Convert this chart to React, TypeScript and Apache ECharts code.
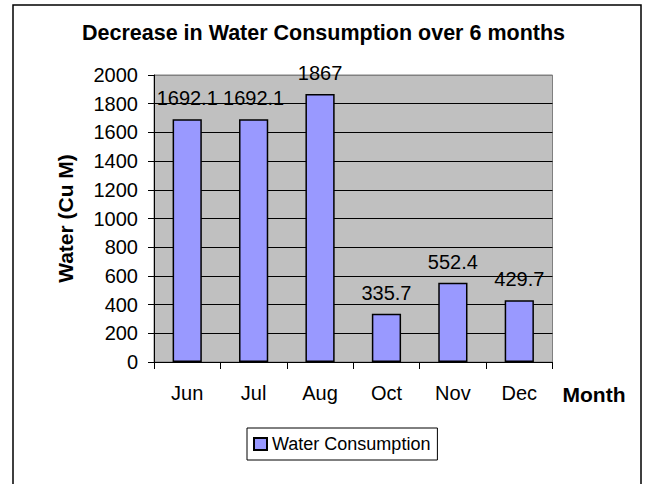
import React, { useEffect, useRef } from "react";
import * as echarts from "echarts";

const months = ["Jun", "Jul", "Aug", "Oct", "Nov", "Dec"];
const waterConsumption = [1692.1, 1692.1, 1867, 335.7, 552.4, 429.7];
const seriesName = "Water Consumption";
const titleText = "Decrease in Water Consumption over 6 months";
const yAxisName = "Water (Cu M)";
const xAxisName = "Month";

const FONT = "'Liberation Sans', Arial, sans-serif";

export default function App() {
  const ref = useRef<HTMLDivElement>(null);

  useEffect(() => {
    if (!ref.current) return;
    const chart = echarts.init(ref.current, undefined, { renderer: "svg" });
    const splitColors = Array.from({ length: 10 }, () => "#000000").concat(["#808080"]);
    chart.setOption({
      animation: false,
      backgroundColor: "#ffffff",
      textStyle: { fontFamily: FONT },
      title: {
        text: titleText,
        left: "center",
        top: 17,
        textStyle: { fontFamily: FONT, fontSize: 21.5, fontWeight: "bold", color: "#000" },
      },
      legend: {
        left: 247,
        top: 428,
        itemWidth: 13,
        itemHeight: 12,
        padding: [7, 7, 7, 6],
        borderColor: "#000",
        borderWidth: 1,
        icon: "rect",
        textStyle: { fontFamily: FONT, fontSize: 18, color: "#000" },
        data: [seriesName],
      },
      grid: {
        left: 154,
        right: 94.5,
        top: 75,
        bottom: 122,
        show: true,
        backgroundColor: "#C0C0C0",
        borderColor: "#808080",
        borderWidth: 1,
      },
      xAxis: {
        type: "category",
        data: months,
        name: xAxisName,
        nameLocation: "end",
        nameGap: 10,
        nameTextStyle: {
          fontFamily: FONT,
          fontSize: 21,
          fontWeight: "bold",
          color: "#000",
          verticalAlign: "top",
          padding: [22, 0, 0, 0],
        },
        axisLine: { lineStyle: { color: "#000", width: 1 } },
        axisTick: { show: true, length: 7, lineStyle: { color: "#000" } },
        axisLabel: { fontFamily: FONT, fontSize: 20, color: "#000", margin: 21 },
      },
      yAxis: {
        type: "value",
        min: 0,
        max: 2000,
        interval: 200,
        name: yAxisName,
        nameLocation: "middle",
        nameGap: 78,
        nameTextStyle: { fontFamily: FONT, fontSize: 21, fontWeight: "bold", color: "#000" },
        axisLine: { show: true, lineStyle: { color: "#000", width: 1 } },
        axisTick: { show: true, length: 6, lineStyle: { color: "#000" } },
        axisLabel: {
          fontFamily: FONT,
          fontSize: 20,
          color: "#000",
          margin: 16,
          formatter: (v: number) => String(v),
        },
        splitLine: { show: true, lineStyle: { color: splitColors, width: 1 } },
      },
      series: [
        {
          name: seriesName,
          type: "bar",
          data: waterConsumption,
          barWidth: "44%",
          itemStyle: { color: "#9999FF", borderColor: "#000", borderWidth: 1.5 },
          label: {
            show: true,
            position: "top",
            distance: 11,
            fontFamily: FONT,
            fontSize: 20,
            color: "#000",
          },
        },
      ],
      graphic: [
        {
          type: "rect",
          shape: { x: 13, y: 5, width: 628, height: 490 },
          style: { fill: "none", stroke: "#000", lineWidth: 1.5 },
          silent: true,
          z: 100,
        },
      ],
    });
    return () => chart.dispose();
  }, []);

  return (
    <div
      ref={ref}
      style={{ position: "absolute", left: 0, top: 0, width: 647, height: 484 }}
    />
  );
}
